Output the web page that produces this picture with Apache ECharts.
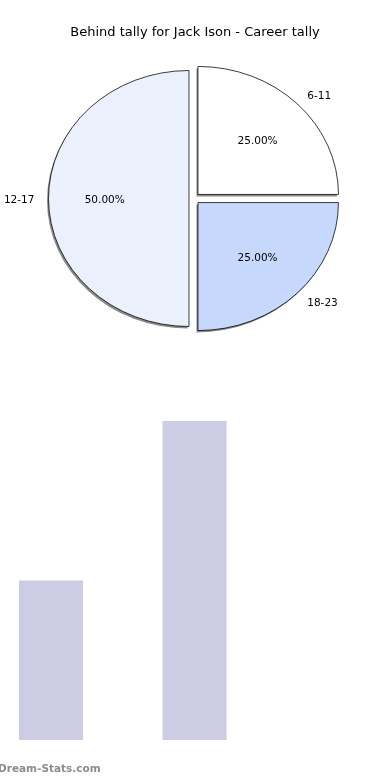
<!DOCTYPE html>
<html><head><meta charset="utf-8">
<script src="https://cdn.jsdelivr.net/npm/echarts@6/dist/echarts.min.js"></script>
<style>html,body{margin:0;padding:0;background:#fff}#c{width:390px;height:780px}</style>
</head><body><div id="c"></div>
<script>
const titleText = 'Behind tally for Jack Ison - Career tally';
const pieCategories = ['6-11', '18-23', '12-17'];
const pieValues = [1, 1, 2];
const barCategories = ['A', 'B'];
const barValues = [1, 2];
const watermark = 'Dream-Stats.com';

const pieColors = ['#ffffff', '#c6d9fd', '#eaf1fd'];
const explode = [0.045, 0.045, 0.032];
const PCX = 193.5, PCY = 198.5, RX = 140.5, RY = 128;
const FONT = '"DejaVu Sans", sans-serif';

const total = pieValues.reduce((a, b) => a + b, 0);
const startAngles = [];
let acc = -Math.PI / 2;
pieValues.forEach(v => { startAngles.push(acc); acc += v / total * Math.PI * 2; });

const chart = echarts.init(document.getElementById('c'), null, {renderer: 'canvas'});
chart.setOption({
  animation: false,
  backgroundColor: '#fff',
  title: {
    text: titleText, left: 'center', top: 21,
    textStyle: {fontFamily: FONT, fontSize: 13, fontWeight: 'normal', color: '#000'}
  },
  graphic: [{
    type: 'text', left: -2, top: 764, silent: true,
    style: {text: watermark, fontFamily: FONT, fontSize: 10.5, fontWeight: 'bold', fill: '#8c8c8c'}
  }],
  grid: {left: 0, right: 0, top: 421, bottom: 40, containLabel: false},
  xAxis: {type: 'value', min: -0.355, max: 2.362, show: false},
  yAxis: {type: 'value', min: 0, max: 2, show: false},
  series: [
    {
      type: 'bar',
      data: barValues.map((v, i) => [i, v]),
      barWidth: 64,
      itemStyle: {color: '#ccccE5'}
    },
    {
      type: 'custom',
      coordinateSystem: 'none',
      data: pieValues.map((v, i) => ({value: v, name: pieCategories[i]})),
      renderItem: function (params, api) {
        const i = params.dataIndex;
        const v = api.value(0);
        const sa = startAngles[i];
        const ea = sa + v / total * Math.PI * 2;
        const mid = (sa + ea) / 2;
        const cx = PCX + explode[i] * RX * Math.cos(mid);
        const cy = PCY + explode[i] * RY * Math.sin(mid);
        const pct = (v / total * 100).toFixed(2) + '%';
        const lx = cx + 1.1 * RX * Math.cos(mid);
        const ly = cy + 1.1 * RY * Math.sin(mid) + 1.5;
        const px = cx + 0.6 * RX * Math.cos(mid);
        const py = cy + 0.6 * RY * Math.sin(mid) + 1.5;
        const shape = {cx: 0, cy: 0, r0: 0, r: RX, startAngle: sa, endAngle: ea, clockwise: true};
        return {
          type: 'group',
          children: [
            {
              type: 'sector',
              x: cx - 1.5, y: cy + 2, scaleX: 1, scaleY: RY / RX,
              shape: shape,
              style: {fill: '#8a8a8a', stroke: null}
            },
            {
              type: 'sector',
              x: cx, y: cy, scaleX: 1, scaleY: RY / RX,
              shape: shape,
              style: {fill: pieColors[i], stroke: '#000', lineWidth: 0.8, strokeNoScale: true}
            },
            {
              type: 'text', x: px, y: py,
              style: {text: pct, fontFamily: FONT, fontSize: 10.5, fill: '#000', align: 'center', verticalAlign: 'middle'}
            },
            {
              type: 'text', x: lx, y: ly,
              style: {text: pieCategories[i], fontFamily: FONT, fontSize: 10.5, fill: '#000',
                align: Math.cos(mid) >= 0 ? 'left' : 'right', verticalAlign: 'middle'}
            }
          ]
        };
      }
    }
  ]
});
</script>
</body></html>
